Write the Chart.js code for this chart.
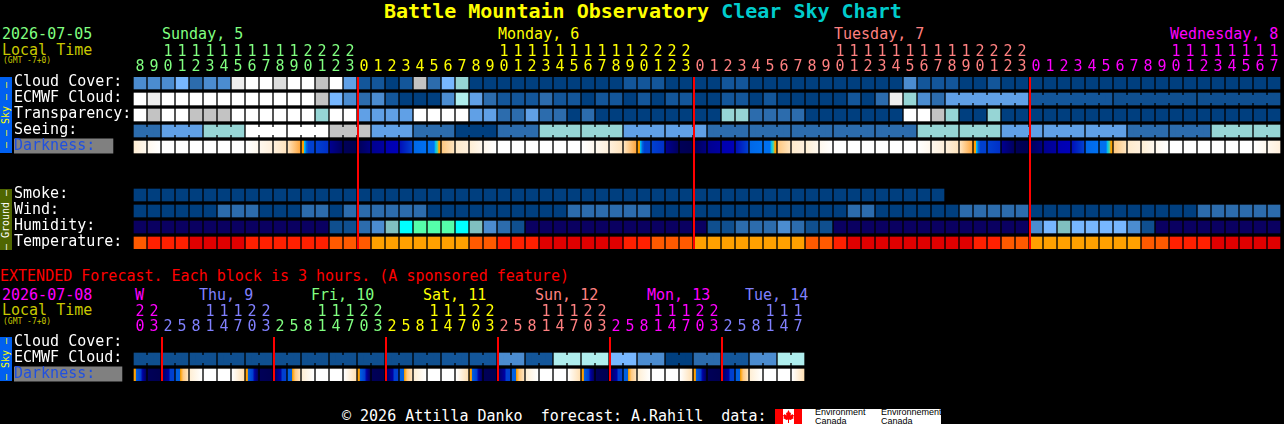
<!DOCTYPE html>
<html><head><meta charset="utf-8">
<script src="https://cdn.jsdelivr.net/npm/chart.js@4/dist/chart.umd.min.js"></script>
<style>
html,body{margin:0;padding:0;background:#000;width:1284px;height:424px;overflow:hidden}
canvas{position:absolute;left:0;display:block}
.t{position:absolute;font-family:"DejaVu Sans Mono",monospace;font-size:15px;line-height:15px;white-space:pre}
.strip{position:absolute;left:0;width:12px;overflow:hidden}
.strip span{position:absolute;left:6px;top:50%;transform:translate(-50%,-50%) rotate(-90deg);font:10px/10px "DejaVu Sans Mono",monospace;white-space:pre}
</style></head><body>
<span class="t" style="left:384px;top:0;font-size:20px;line-height:22px;font-weight:bold;color:#ffff00">Battle Mountain Observatory <span style="color:#00cccc">Clear Sky Chart</span></span>
<span class="t" style="left:2px;top:27px;color:#80ff80">2026-07-05</span>
<span class="t" style="left:2px;top:43px;color:#c8c800">Local Time</span>
<span class="t" style="left:3px;top:57px;font-size:8px;line-height:8px;color:#c8c800">(GMT -7+0)</span>
<span class="t" style="left:162px;top:27px;color:#80ff80">Sunday, 5</span>
<span class="t" style="left:498px;top:27px;color:#ffff00">Monday, 6</span>
<span class="t" style="left:834px;top:27px;color:#ff8080">Tuesday, 7</span>
<span class="t" style="left:1170px;top:27px;color:#ff00ff">Wednesday, 8</span>
<span class="t" style="left:0;top:269px;color:#ff0000">EXTENDED Forecast. Each block is 3 hours. (A sponsored feature)</span>
<span class="t" style="left:2px;top:288px;color:#ff00ff">2026-07-08</span>
<span class="t" style="left:2px;top:303px;color:#c8c800">Local Time</span>
<span class="t" style="left:3px;top:318px;font-size:8px;line-height:8px;color:#c8c800">(GMT -7+0)</span>
<span class="t" style="left:135px;top:288px;color:#ff00ff">W</span>
<span class="t" style="left:199px;top:288px;color:#8080ff">Thu, 9</span>
<span class="t" style="left:311px;top:288px;color:#80ff80">Fri, 10</span>
<span class="t" style="left:423px;top:288px;color:#ffff00">Sat, 11</span>
<span class="t" style="left:535px;top:288px;color:#ff8080">Sun, 12</span>
<span class="t" style="left:647px;top:288px;color:#ff00ff">Mon, 13</span>
<span class="t" style="left:745px;top:288px;color:#8080ff">Tue, 14</span>
<div class="strip" style="top:77px;height:76px;background:#0060f0"><span style="color:#ffff00">— — Sky — —</span></div>
<div class="strip" style="top:189px;height:61px;background:#4f6600"><span style="color:#fff">– Ground –</span></div>
<div class="strip" style="top:337px;height:44px;background:#0060f0"><span style="color:#ffff00">– Sky –</span></div>
<canvas id="hourly" width="1284" height="250" style="top:0"></canvas>
<canvas id="extended" width="1284" height="122" style="top:260px"></canvas>
<span class="t" style="left:342px;top:409px;color:#fff">© 2026 Attilla Danko  forecast: A.Rahill  data:</span>
<div style="position:absolute;left:775px;top:409px;width:166px;height:15px;background:#fff;overflow:hidden">
<div style="position:absolute;left:0;top:0;width:8px;height:15px;background:#f00"></div>
<div style="position:absolute;left:19px;top:0;width:8px;height:15px;background:#f00"></div>
<svg style="position:absolute;left:8px;top:1px" width="11" height="13" viewBox="0 0 11 13"><path fill="#f00" d="M5.5 0L7 3 8 2.5 7.6 5.5 9.5 4 10 5 11 5 10 7.5 11 8 7.5 10 6 9.5 6 13 5 13 5 9.5 3.5 10 0 8 1 7.500 0 5 1 5 1.500 4 3.400 5.500 3 2.500 4 3z"/></svg>
<span style="position:absolute;left:40px;top:-1px;font:9px/9px 'Liberation Sans',sans-serif;color:#000">Environment<br>Canada</span>
<span style="position:absolute;left:106px;top:-1px;font:9px/9px 'Liberation Sans',sans-serif;color:#000">Environnement<br>Canada</span>
</div>
<script>
const hourLabels = ["8","9","10","11","12","13","14","15","16","17","18","19","20","21","22","23",
 "0","1","2","3","4","5","6","7","8","9","10","11","12","13","14","15","16","17","18","19","20","21","22","23",
 "0","1","2","3","4","5","6","7","8","9","10","11","12","13","14","15","16","17","18","19","20","21","22","23",
 "0","1","2","3","4","5","6","7","8","9","10","11","12","13","14","15","16","17"];
const extLabels = ["20","23","2","5","8","11","14","17","20","23","2","5","8","11","14","17","20","23","2","5","8","11","14","17",
 "20","23","2","5","8","11","14","17","20","23","2","5","8","11","14","17","20","23","2","5","8","11","14","17"];
const hourRowLabels = ["Cloud Cover:","ECMWF Cloud:","Transparency:","Seeing:","Darkness:","","","Smoke:","Wind:","Humidity:","Temperature:"];
const extRowLabels = ["Cloud Cover:","ECMWF Cloud:","Darkness:"];
const hourBoundaries = [16,40,64];
const extBoundaries = [2,10,18,26,34,42];
const hourDayColors = ["#80ff80","#ffff00","#ff8080","#ff00ff"];
const extDayColors = ["#ff00ff","#8080ff","#80ff80","#ffff00","#ff8080","#ff00ff","#8080ff"];

const palette = ["#003f7f","#13569a","#2c6cad","#4b8cd0","#60a0e6","#77b7ff","#96d5d5","#afeeee","#c3c3c3","#dcdcdc","#eeeeee","#ffffff",
 "#0a0061","#80c0c0","#00ffff","#55ffaa","#ffa000","#ff5a00","#ff2000","#e00000","","#0f4f8f"];

const cloudCover = [3,3,3,5,2,3,3,10,11,11,9,11,11,8,11,4, 1,1,0,1,8,2,5,6,
 0,0,0,0,0,0,0,0,0,0,0,1,1,1,0,0,0,0,1,1,0,0,0,0,0,0,0,0,0,0,0,3,1,1,1,0,0,1,0,0,
 0,0,0,0,0,0,0,0,0,0,0,0,0,0,0,0,0,0];
const ecmwfCloud = [11,10,11,11,11,11,11,11,11,11,11,11,11,8,5,3,2,3,1,0,0,0,
 3,7,4,2,1,1,1,2,1,1,0,1,1,0,1,0,1,1,0,0,1,1,0,1,0,0,0,0,0,1,
 0,2,10,6,3,2,4,4,4,4,4,4,1,1,1,1,1,1,21,21,21,21,21,21,21,21,21,21,21,21];
const transparency = [11,8,11,11,8,8,8,11,11,11,11,11,11,6,11,11,4,4,4,4,11,11,11,11,
 4,4,2,2,4,2,2,0,2,0,0,0,0,0,0,0,0,0,6,6,2,2,2,2,0,0,0,0,0,0,0,11,11,8,6,0,0,6,0,0,
 0,0,0,0,0,0,0,0,0,0,0,0,0,0,0,0,0,0];
const seeing = [2,2,4,4,4,6,6,6,11,11,11,11,11,11,8,8,8,4,4,4,2,2,2,0,0,0,2,2,2,6,6,6,6,6,6,4,4,4,4,4,4,
 2,2,2,2,2,2,2,2,2,2,2,2,2,2,2,6,6,6,6,6,6,4,4,4,4,4,4,4,4,4,2,2,2,2,2,2,6,6,6,6,6];
const darkness = ["a","b","w","w","w","w","w","w","c","d","e","f","g","h","i","j","k","l","m","n","o","p","q","r",
 "a","b","w","w","w","w","w","w","c","d","e","f","g","h","i","j","k","l","m","n","o","p","q","r",
 "a","b","w","w","w","w","w","w","c","d","e","f","g","h","i","j","k","l","m","n","o","p","q","r",
 "a","b","w","w","w","w","w","w","c","d"];
const smoke = [0,0,0,0,0,0,0,0,0,0,0,0,0,0,0,0,0,0,0,0,0,0,0,0,0,0,0,0,0,0,0,0,0,0,0,0,0,0,0,0,0,0,0,0,0,0,0,0,0,0,0,0,0,0,0,0,0,0];
const wind = [0,0,0,0,0,0,2,2,2,0,0,0,2,2,0,2,2,2,2,2,2,0,0,0,0,0,0,0,0,0,0,2,2,2,2,2,2,0,0,0,0,0,0,0,0,0,0,0,0,0,0,2,
 2,0,0,0,0,0,0,2,2,2,2,2,0,0,0,0,0,0,0,0,0,0,0,0,2,2,2,2,2,2];
const humidity = [12,12,12,12,12,12,12,12,12,12,12,12,12,12,21,21,2,3,13,14,15,15,15,14,13,3,2,21,
 12,12,12,12,12,12,12,12,12,12,12,12,12,21,21,2,2,2,3,2,21,21,12,12,
 12,12,12,12,12,12,12,12,12,12,12,12,3,5,13,5,5,5,5,3,21,12,12,12,12,12,12,12,12,12];
const temperature = [17,18,18,18,19,19,19,19,18,18,18,18,18,18,17,17,17,16,16,16,16,16,16,16,
 17,17,18,18,18,19,19,19,19,19,19,18,18,17,17,17,16,16,16,16,16,16,16,16,17,17,18,19,
 19,19,19,19,19,19,19,19,18,18,17,17,16,16,16,16,16,16,16,16,17,17,18,18,18,19,19,19,19,19];
const seeingJoins = [[0,1],[2,4],[5,7],[8,10],[11,13],[14,16],[17,19],[20,22],[23,25],[26,28],[29,31],[32,34],[35,37],[38,40],[41,43],[44,46],[47,49],[50,52],[53,55],[56,58],[59,61],[62,64],[65,67],[68,70],[71,73],[74,76],[77,79],[80,81]];
const ecmwfJoins = [[58,63],[64,69],[70,75],[76,81]];

const extEcmwf = [21,21,21,21,21,21,21,21,21,21,21,21,21,21,21,21,21,21,21,21,21,21,1,1,1,1,3,3,1,1,7,7,7,7,5,5,3,3,0,0,2,2,1,1,3,3,7,7];
const extDarkness = ["A","B","C","D","E","w","w","F","A","B","C","D","E","w","w","F","A","B","C","D","E","w","w","F",
 "A","B","C","D","E","w","w","F","A","B","C","D","E","w","w","F","A","B","C","D","E","w","w","F"];
const extJoins = [[0,1],[2,3],[4,5],[6,7],[8,9],[10,11],[12,13],[14,15],[16,17],[18,19],[20,21],[22,23],[24,25],[26,27],[28,29],[30,31],[32,33],[34,35],[36,37],[38,39],[40,41],[42,43],[44,45],[46,47]];

// colour stops inside one darkness cell: [position, colour]
const darkStops = {
 w:[[0,"#ffffff"],[1,"#ffffff"]],
 a:[[0,"#ffefd5"],[1,"#fff8ee"]], b:[[0,"#fff8ee"],[1,"#ffffff"]],
 c:[[0,"#ffffff"],[1,"#fff8ee"]], d:[[0,"#fff8ee"],[1,"#fff0dc"]],
 e:[[0,"#fff0dc"],[1,"#ffe4be"]], f:[[0,"#ffe4be"],[1,"#ffa840"]],
 g:[[0,"#ffa000"],[.14,"#ffa000"],[.2,"#00c0f0"],[.38,"#0060e0"],[.55,"#0040d0"],[1,"#0040d0"]],
 h:[[0,"#0040d0"],[1,"#0030c8"]], i:[[0,"#000090"],[1,"#000060"]],
 j:[[0,"#000058"],[1,"#000050"]], k:[[0,"#000058"],[1,"#000080"]],
 l:[[0,"#000090"],[1,"#0000a0"]], m:[[0,"#0000b0"],[1,"#0000b8"]],
 n:[[0,"#0010b8"],[1,"#0040d0"]], o:[[0,"#0068e8"],[1,"#0070f0"]],
 p:[[0,"#0070f0"],[.5,"#0070f0"],[.62,"#00c0f0"],[.8,"#60d090"],[.9,"#ffa000"],[1,"#ffa000"]],
 q:[[0,"#ffc880"],[1,"#ffe4be"]], r:[[0,"#ffebcd"],[1,"#fff0dc"]],
 A:[[0,"#ffa000"],[.12,"#ffa000"],[.16,"#0060e0"],[.55,"#0040d0"],[.72,"#0000a0"],[1,"#000060"]],
 B:[[0,"#000058"],[1,"#000050"]],
 C:[[0,"#000060"],[.55,"#0000a0"],[.7,"#0040d0"],[1,"#0040d0"]],
 D:[[0,"#0060e0"],[.3,"#0060e0"],[.38,"#ffa000"],[.6,"#ffc880"],[1,"#ffe4be"]],
 E:[[0,"#ffefd5"],[1,"#ffffff"]],
 F:[[0,"#ffffff"],[1,"#ffe0b4"]]
};

const FONT = "'DejaVu Sans Mono', monospace";
const HALF = 0.375;

function cellBars(values, row, colorOf){
  return {type:"bar", order:2, xAxisID:"x", yAxisID:"y", grouped:false, barThickness:12, borderWidth:0,
    data: values.map(v => [row-HALF, row+HALF]),
    backgroundColor: colorOf};
}
function levelBars(values,row){ return cellBars(values,row,values.map(v=>palette[v])); }
function gradientBars(keys,row){
  return cellBars(keys,row,function(c){
    const stops = darkStops[keys[c.dataIndex]];
    const xs = c.chart.scales.x;
    if(!stops || !xs) return "#fff";
    const px = xs.getPixelForValue(c.dataIndex);
    if(!isFinite(px)) return "#fff";
    const g = c.chart.ctx.createLinearGradient(px-6,0,px+6,0);
    stops.forEach(s=>g.addColorStop(s[0],s[1]));
    return g;
  });
}
function joinLine(pair,row,level){
  return {type:"line", order:1, xAxisID:"xh", yAxisID:"y", borderColor:palette[level], borderWidth:8, pointRadius:0, tension:0, borderCapStyle:"butt",
    data:[{x:pair[0]+0.4,y:row},{x:pair[1]+0.4,y:row}]};
}
function boundaryLine(col,yMin,yMax){
  return {type:"line", order:0, xAxisID:"xh", yAxisID:"y", borderColor:"#ff0000", borderWidth:2, pointRadius:0, tension:0, borderCapStyle:"butt",
    data:[{x:col,y:yMin},{x:col,y:yMax}]};
}
function makeChart(id,labels,rowLabels,datasets,boundaries,dayColors,right,darkWidth,yMax,bottomPad){
  const nCols = labels.length;
  new Chart(document.getElementById(id),{
    type:"bar",
    data:{labels:labels,datasets:datasets.concat(boundaries.map(b=>boundaryLine(b,-HALF,yMax)))},
    options:{
      responsive:false, animation:false, devicePixelRatio:1, events:[],
      layout:{padding:{left:14,right:1284-right,top:0,bottom:bottomPad}},
      plugins:{legend:{display:false},title:{display:false},tooltip:{enabled:false}},
      scales:{
        x:{type:"category",position:"top",offset:true,
          grid:{display:false},border:{display:false},
          afterFit:s=>{s.height=77;s.paddingLeft=0;s.paddingRight=0;},
          ticks:{autoSkip:false,maxRotation:0,minRotation:0,padding:-6,
            font:{family:FONT,size:15,lineHeight:1},
            color:c=>{let d=0;boundaries.forEach(b=>{if(c.index>=b)d++;});return dayColors[d];},
            callback:function(v,i){const s=labels[i];return s.length>1?[s[0],s[1]]:["",s];}}},
        xh:{type:"linear",axis:"x",display:false,offset:false,min:-1/14,max:nCols-1/14,grid:{display:false}},
        y:{type:"linear",position:"left",reverse:true,min:-HALF,max:yMax,
          grid:{display:false},border:{display:false},
          afterFit:s=>{s.width=119;s.paddingTop=0;s.paddingBottom=0;},
          afterBuildTicks:s=>{s.ticks=rowLabels.map((l,i)=>({value:i})).filter(t=>rowLabels[t.value]!=="");},
          ticks:{autoSkip:false,crossAlign:"far",padding:0,labelOffset:-1,
            font:{family:FONT,size:15,lineHeight:1},
            color:c=>rowLabels[c.tick.value]==="Darkness:"?"#2050e0":"#ffffff",
            callback:v=>rowLabels[v],
            showLabelBackdrop:c=>rowLabels[c.tick.value]==="Darkness:",
            backdropColor:"#808080",
            backdropPadding:{left:0,right:darkWidth-81,top:0,bottom:0}}}
      }
    }
  });
}
const hourDatasets = [
  levelBars(cloudCover,0), levelBars(ecmwfCloud,1), levelBars(transparency,2), levelBars(seeing,3), gradientBars(darkness,4),
  levelBars(smoke,7), levelBars(wind,8), levelBars(humidity,9), levelBars(temperature,10)
].concat(seeingJoins.map(p=>joinLine(p,3,seeing[p[0]])), ecmwfJoins.map(p=>joinLine(p,1,ecmwfCloud[p[0]])));
makeChart("hourly",hourLabels,hourRowLabels,hourDatasets,hourBoundaries,hourDayColors,1281,99,10+HALF,1);

const extDatasets = [levelBars(extEcmwf,1), gradientBars(extDarkness,2)].concat(extJoins.map(p=>joinLine(p,1,extEcmwf[p[0]])));
makeChart("extended",extLabels,extRowLabels,extDatasets,extBoundaries,extDayColors,805,108,2+HALF,1);
</script>
</body></html>
